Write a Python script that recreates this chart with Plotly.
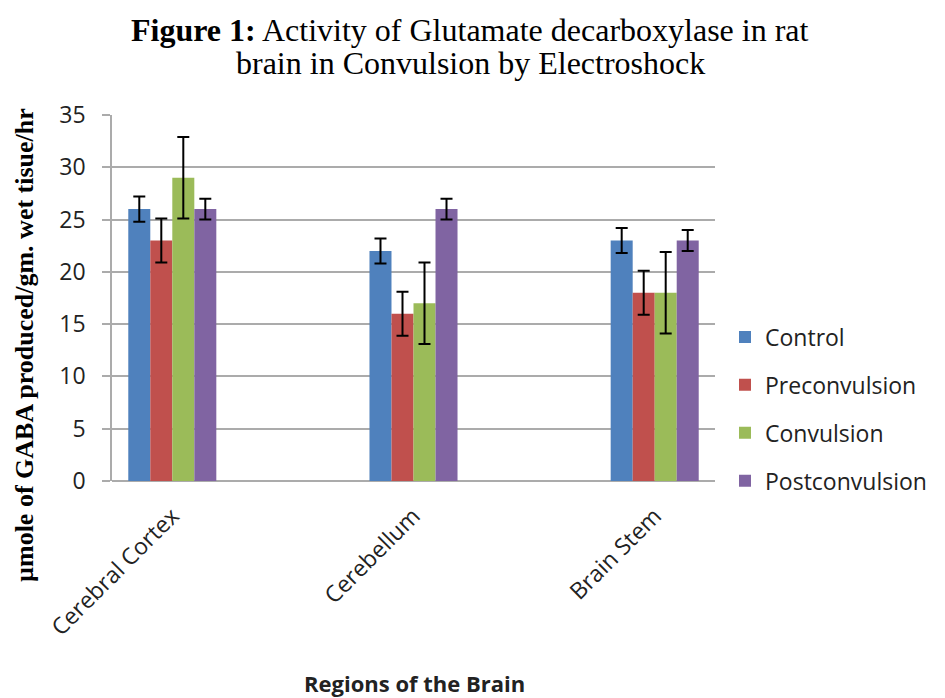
import plotly.graph_objects as go

categories = ["Cerebral Cortex", "Cerebellum", "Brain Stem"]
series_names = ["Control", "Preconvulsion", "Convulsion", "Postconvulsion"]
control = [26, 22, 23]
preconvulsion = [23, 16, 18]
convulsion = [29, 17, 18]
postconvulsion = [26, 26, 23]
control_err = [1.2, 1.2, 1.2]
preconvulsion_err = [2.1, 2.1, 2.1]
convulsion_err = [3.9, 3.9, 3.9]
postconvulsion_err = [1.0, 1.0, 1.0]
colors = ["#4F81BD", "#C0504D", "#9BBB59", "#8064A2"]
y_ticks = [0, 5, 10, 15, 20, 25, 30, 35]

values = [control, preconvulsion, convulsion, postconvulsion]
errors = [control_err, preconvulsion_err, convulsion_err, postconvulsion_err]

fig = go.Figure()
for name, vals, errs, col in zip(series_names, values, errors, colors):
    fig.add_trace(go.Bar(
        x=categories, y=vals, name=name, legendgroup=name,
        marker=dict(color=col, line=dict(width=0)),
        error_y=dict(type="data", array=errs, visible=True,
                     color="black", thickness=2, width=6),
    ))

sans = "Open Sans"
serif = "Liberation Serif"

# page body has an 8px margin: figure drawn at (8, 8)
W, H = 937, 690
L, T = 104, 107
PW, PH = 603, 366

def px_x(x):
    return (x - 8 - L) / PW

def px_y(y):
    return 1 - (y - 8 - T) / PH

fig.update_layout(
    width=W, height=H,
    paper_bgcolor="white", plot_bgcolor="white",
    margin=dict(l=L, r=W - L - PW, t=T, b=H - T - PH, autoexpand=False),
    barmode="group", bargap=0.635, bargroupgap=0,
    showlegend=True,
    legend=dict(x=px_x(725), y=px_y(409), yanchor="middle", xanchor="left",
                font=dict(family=sans, size=23, color="#222"),
                tracegroupgap=15, itemwidth=30,
                bgcolor="rgba(0,0,0,0)"),
    xaxis=dict(
        type="category", range=[-0.25, 2.25],
        tickangle=-45, tickfont=dict(family=sans, size=23, color="#222"),
        ticklabelstandoff=16,
        showgrid=False, showline=False, ticks="",
    ),
    yaxis=dict(
        range=[0, 35], tickvals=y_ticks,
        tickfont=dict(family=sans, size=23, color="#222"),
        ticklabelstandoff=12,
        showgrid=True, gridcolor="#ABABAB", gridwidth=1.5,
        showline=True, linecolor="#ABABAB", linewidth=1.5,
        ticks="outside", ticklen=8, tickcolor="#ABABAB", tickwidth=1.5,
        zeroline=True, zerolinecolor="#ABABAB", zerolinewidth=1.5,
    ),
)

# title (two lines, tight spacing as in reference)
fig.add_annotation(
    text="<b>Figure 1:</b> Activity of Glutamate decarboxylase in rat",
    xref="paper", yref="paper", x=px_x(470), y=px_y(30),
    xanchor="center", yanchor="middle", showarrow=False,
    font=dict(family=serif, size=32, color="black"),
)
fig.add_annotation(
    text="brain in Convulsion by Electroshock",
    xref="paper", yref="paper", x=px_x(470), y=px_y(63),
    xanchor="center", yanchor="middle", showarrow=False,
    font=dict(family=serif, size=32, color="black"),
)

# y axis title
fig.add_annotation(
    text="<b>µmole of GABA produced/gm. wet tisue/hr</b>",
    xref="paper", yref="paper", x=px_x(24), y=px_y(345),
    xanchor="center", yanchor="middle",
    textangle=-90, showarrow=False,
    font=dict(family=serif, size=26, color="black"),
)

# x axis title
fig.add_annotation(
    text="<b>Regions of the Brain</b>",
    xref="paper", yref="paper", x=px_x(414), y=px_y(683),
    xanchor="center", yanchor="middle", showarrow=False,
    font=dict(family=sans, size=22, color="#222"),
)

fig.write_html("out.html")
